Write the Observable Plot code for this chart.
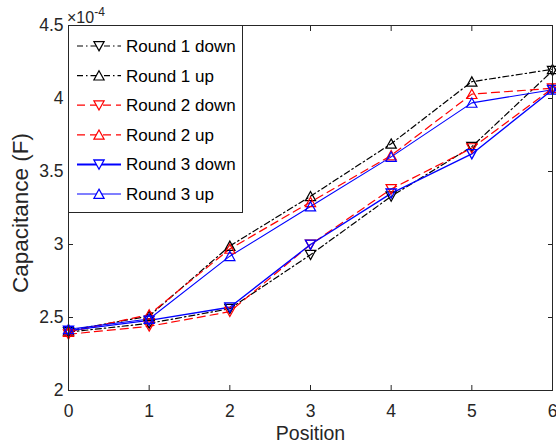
<!DOCTYPE html>
<html><head><meta charset="utf-8">
<script src="https://cdn.jsdelivr.net/npm/d3@7"></script>
<script src="https://cdn.jsdelivr.net/npm/@observablehq/plot@0.6"></script>
<style>
body{margin:0;background:#fff;}
#wrap{position:relative;width:556px;height:446px;font-family:Arial,"Liberation Sans",sans-serif;color:#262626;}
#wrap svg{overflow:visible;}
.ov{position:absolute;white-space:nowrap;}
</style></head><body><div id="wrap"></div>
<script>
const positions = [0, 1, 2, 3, 4, 5, 6];
const round1Down = [2.40, 2.46, 2.56, 2.93, 3.33, 3.67, 4.19];
const round1Up   = [2.41, 2.51, 2.99, 3.33, 3.69, 4.115, 4.20];
const round2Down = [2.385, 2.44, 2.54, 3.00, 3.38, 3.66, 4.07];
const round2Up   = [2.40, 2.52, 2.97, 3.29, 3.61, 4.03, 4.07];
const round3Down = [2.41, 2.48, 2.57, 3.00, 3.35, 3.62, 4.06];
const round3Up   = [2.42, 2.49, 2.92, 3.26, 3.60, 3.97, 4.06];
const seriesNames = ["Round 1 down", "Round 1 up", "Round 2 down", "Round 2 up", "Round 3 down", "Round 3 up"];
const xTicks = [0, 1, 2, 3, 4, 5, 6];
const yTicks = [2, 2.5, 3, 3.5, 4, 4.5];
const xLabel = "Position";
const yLabel = "Capacitance (F)";

const triUp = {draw(ctx, size) {const h = Math.sqrt(size) * 0.55; ctx.moveTo(0, -h); ctx.lineTo(h * 1.05, h * 0.9); ctx.lineTo(-h * 1.05, h * 0.9); ctx.closePath();}};
const triDown = {draw(ctx, size) {const h = Math.sqrt(size) * 0.55; ctx.moveTo(0, h); ctx.lineTo(h * 1.05, -h * 0.9); ctx.lineTo(-h * 1.05, -h * 0.9); ctx.closePath();}};

const styles = [
  {color: "#000000", dash: "6,3,1.5,3", width: 1.2, mw: 1.2, sym: triDown},
  {color: "#000000", dash: "6,3,1.5,3", width: 1.2, mw: 1.2, sym: triUp},
  {color: "#ff0000", dash: "8,5", width: 1.2, mw: 1.2, sym: triDown},
  {color: "#ff0000", dash: "8,5", width: 1.2, mw: 1.2, sym: triUp},
  {color: "#0000ff", dash: null, width: 1.4, mw: 1.3, sym: triDown},
  {color: "#0000ff", dash: null, width: 1.1, mw: 1.2, sym: triUp}
];
const allValues = [round1Down, round1Up, round2Down, round2Up, round3Down, round3Up];
const series = allValues.map((vals, s) => positions.map((p, i) => ({x: p, y: vals[i], s})));

const marks = [];
series.forEach((data, s) => {
  const st = styles[s];
  marks.push(Plot.line(data, {x: "x", y: "y", stroke: st.color, strokeWidth: st.width, strokeDasharray: st.dash}));
});
series.forEach((data, s) => {
  const st = styles[s];
  marks.push(Plot.dot(data, {x: "x", y: "y", stroke: st.color, fill: "none", strokeWidth: st.mw, r: 5, symbol: st.sym}));
});

const axisColor = "#262626";
const chart = Plot.plot({
  width: 556, height: 446,
  marginLeft: 68, marginRight: 4, marginTop: 25, marginBottom: 56,
  style: {fontFamily: "Arial, 'Liberation Sans', sans-serif", fontSize: "17.5px", color: axisColor, background: "white"},
  x: {domain: [0, 6]},
  y: {domain: [2, 4.5]},
  marks: [
    ...marks,
    Plot.frame({stroke: axisColor, strokeWidth: 1}),
    Plot.axisX({ticks: xTicks, anchor: "bottom", tickSize: -5, tickPadding: 19, tickFormat: d => String(d), label: null, fontSize: 17.5}),
    Plot.axisX({ticks: xTicks, anchor: "top", tickSize: -5, tickFormat: () => "", label: null}),
    Plot.axisY({ticks: yTicks, anchor: "left", tickSize: -5, tickPadding: 10, tickFormat: d => String(d), label: null, fontSize: 17.5}),
    Plot.axisY({ticks: yTicks, anchor: "right", tickSize: -5, tickFormat: () => "", label: null})
  ]
});
const wrap = document.getElementById("wrap");
wrap.appendChild(chart);

// axis titles
const xl = document.createElement("div");
xl.className = "ov";
xl.style.cssText = "left:210.5px;width:200px;text-align:center;top:421px;font-size:19.5px;line-height:24px;";
xl.textContent = xLabel;
wrap.appendChild(xl);
const yl = document.createElement("div");
yl.className = "ov";
yl.style.cssText = "width:400px;text-align:center;font-size:22.5px;line-height:26px;transform:rotate(-90deg);transform-origin:200px 13px;";
yl.textContent = yLabel;
yl.style.left = (20.5 - 200) + "px";
yl.style.top = (213 - 13) + "px";
wrap.appendChild(yl);

// exponent label
const ex = document.createElement("div");
ex.className = "ov";
ex.style.cssText = "left:67px;top:2px;font-size:16px;line-height:20px;";
ex.innerHTML = "×10<sup style='font-size:12px;vertical-align:7px;'>-4</sup>";
wrap.appendChild(ex);

// legend
const ns = "http://www.w3.org/2000/svg";
const lg = document.createElementNS(ns, "svg");
lg.setAttribute("width", 175); lg.setAttribute("height", 188);
lg.setAttribute("class", "ov");
lg.style.left = "68px"; lg.style.top = "25px";
const rect = document.createElementNS(ns, "rect");
rect.setAttribute("x", 0.5); rect.setAttribute("y", 0.5); rect.setAttribute("width", 174); rect.setAttribute("height", 187);
rect.setAttribute("fill", "white"); rect.setAttribute("stroke", axisColor);
lg.appendChild(rect);
seriesNames.forEach((name, i) => {
  const st = styles[i];
  const cy = 21 + i * 29.6;
  const ln = document.createElementNS(ns, "line");
  ln.setAttribute("x1", 9); ln.setAttribute("x2", 53); ln.setAttribute("y1", cy); ln.setAttribute("y2", cy);
  ln.setAttribute("stroke", st.color); ln.setAttribute("stroke-width", i === 4 ? 2 : st.width);
  if (st.dash) ln.setAttribute("stroke-dasharray", st.dash);
  lg.appendChild(ln);
  const p = d3.path(); st.sym.draw(p, 78.5);
  const mk = document.createElementNS(ns, "path");
  mk.setAttribute("d", p.toString()); mk.setAttribute("transform", `translate(31,${cy})`);
  mk.setAttribute("fill", "white"); mk.setAttribute("stroke", st.color); mk.setAttribute("stroke-width", st.mw);
  lg.appendChild(mk);
  const tx = document.createElementNS(ns, "text");
  tx.setAttribute("x", 58); tx.setAttribute("y", cy); tx.setAttribute("dy", "0.35em");
  tx.setAttribute("font-size", 17); tx.setAttribute("fill", "#000");
  tx.setAttribute("font-family", "Arial, 'Liberation Sans', sans-serif");
  tx.textContent = name;
  lg.appendChild(tx);
});
wrap.appendChild(lg);
</script>
</body></html>
